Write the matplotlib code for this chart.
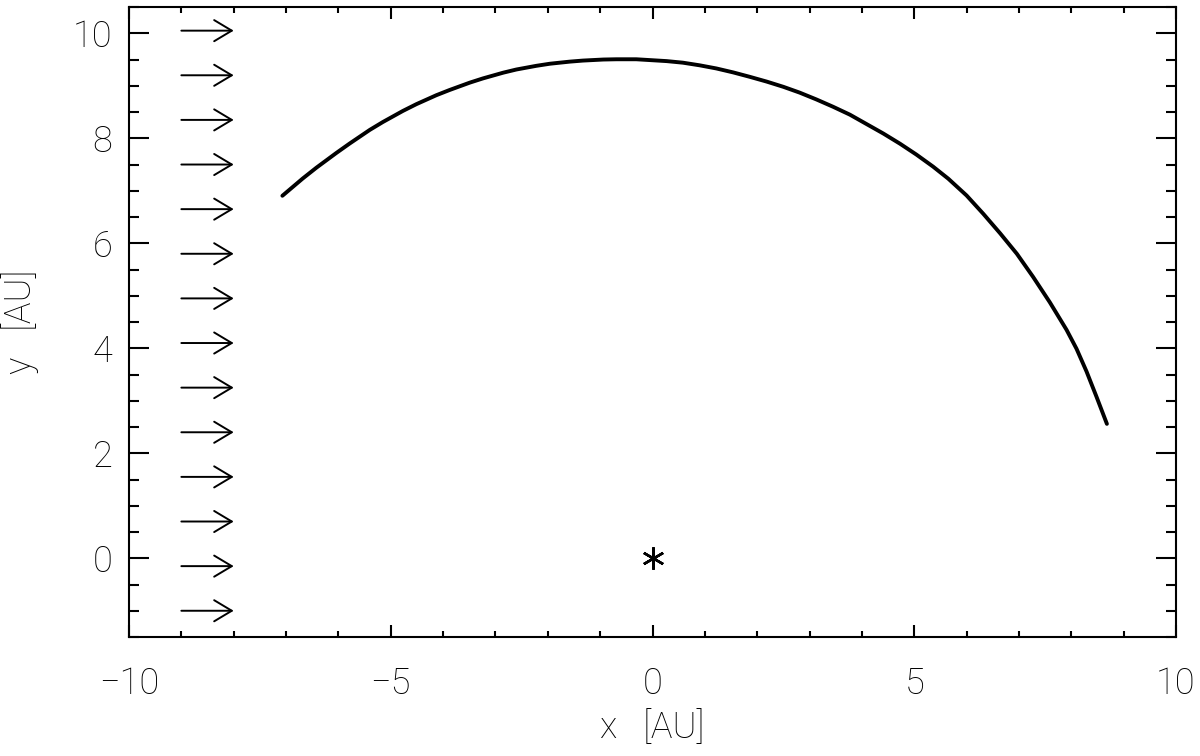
import matplotlib
matplotlib.use("Agg")
import matplotlib.pyplot as plt
from matplotlib.ticker import MultipleLocator

# orbit arc [AU]
orbit_x = [-7.07, -6.68, -6.42, -6.04, -5.785, -5.40, -5.15, -4.77, -4.51,
           -4.13, -3.875, -3.49, -3.24, -2.85, -2.60, -2.22, -1.96, -1.58,
           -1.33, -0.94, -0.69, -0.31, 0.27, 0.58, 0.90, 1.22, 1.54, 1.86,
           2.18, 2.50, 2.81, 3.13, 3.45, 3.77, 4.09, 4.41, 4.73, 5.04, 5.36,
           5.65, 6.00, 6.32, 6.64, 6.96, 7.27, 7.59, 7.91, 8.10, 8.29, 8.48,
           8.68]
orbit_y = [6.905, 7.235, 7.44, 7.72, 7.90, 8.16, 8.31, 8.52, 8.65,
           8.82, 8.92, 9.06, 9.14, 9.25, 9.31, 9.38, 9.42, 9.46,
           9.48, 9.50, 9.505, 9.505, 9.47, 9.44, 9.39, 9.33, 9.255, 9.17,
           9.08, 8.98, 8.87, 8.74, 8.60, 8.45, 8.27, 8.09, 7.895, 7.69, 7.46,
           7.23, 6.91, 6.56, 6.19, 5.80, 5.36, 4.875, 4.35, 3.99, 3.56, 3.08,
           2.56]

# incoming flow arrows
arrow_x0 = -9.0
arrow_x1 = -8.0
arrow_y = [10.05, 9.2, 8.35, 7.5, 6.65, 5.8, 4.95, 4.1, 3.25, 2.4, 1.55,
           0.7, -0.15, -1.0]

# central star
star_x = [0.0]
star_y = [0.0]

plt.rcParams["font.family"] = ["Roboto", "DejaVu Sans"]
plt.rcParams["font.weight"] = "light"
plt.rcParams["axes.labelweight"] = "light"
plt.rcParams["axes.linewidth"] = 1.5

fig = plt.figure(figsize=(12, 7.56), dpi=100)
ax = fig.add_axes([0.1075, 0.1574, 0.8725, 0.8333])

ax.plot(orbit_x, orbit_y, color="black", linewidth=2.8,
        solid_capstyle="round", solid_joinstyle="round")

for y in arrow_y:
    ax.annotate("", xy=(arrow_x1, y), xytext=(arrow_x0, y),
                arrowprops=dict(arrowstyle="->,head_length=1.27,head_width=0.76",
                                mutation_scale=10, color="black", lw=1.4,
                                shrinkA=0, shrinkB=0))

ax.plot(star_x, star_y, linestyle="none", marker=(6, 2, 0),
        markersize=16, markeredgewidth=1.8, color="black")

ax.set_xlim(-10, 10)
ax.set_ylim(-1.5, 10.5)
ax.xaxis.set_major_locator(MultipleLocator(5))
ax.xaxis.set_minor_locator(MultipleLocator(1))
ax.yaxis.set_major_locator(MultipleLocator(2))
ax.yaxis.set_minor_locator(MultipleLocator(0.5))

ax.tick_params(axis="both", which="both", direction="in",
               top=True, right=True, width=1.5, labelsize=26)
ax.tick_params(axis="x", which="major", length=8.6, pad=21)
ax.tick_params(axis="x", which="minor", length=4.3)
ax.tick_params(axis="y", which="major", length=14.4, pad=12)
ax.tick_params(axis="y", which="minor", length=7.2)

ax.set_xlabel("x   [AU]", fontsize=26, labelpad=6)
ax.set_ylabel("y   [AU]", fontsize=26, labelpad=24)

fig.savefig("out.png", dpi=100)
